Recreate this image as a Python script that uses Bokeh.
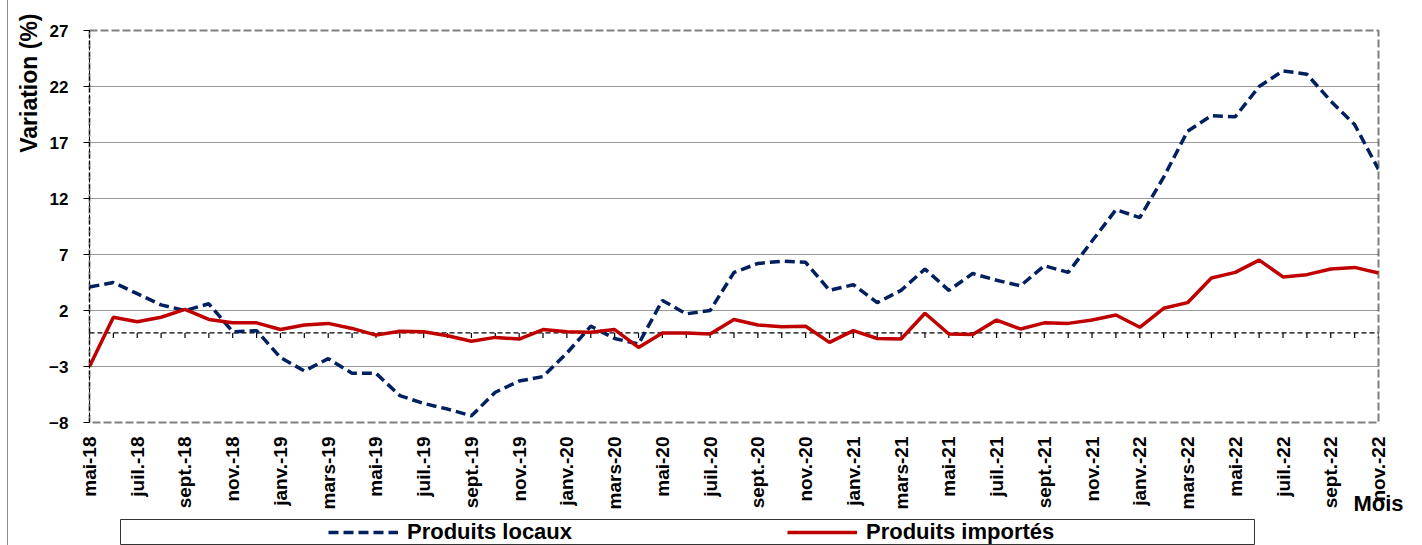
import math
from bokeh.plotting import figure
from bokeh.models import (Range1d, FixedTicker, Span, Title, Legend, LegendItem,
                          ColumnDataSource, Spacer)
from bokeh.layouts import column, row
from bokeh.embed import file_html
from bokeh.resources import INLINE

# ---------------- data ----------------
month_names = ["janv.", "févr.", "mars", "avr.", "mai", "juin",
               "juil.", "août", "sept.", "oct.", "nov.", "déc."]
start_year = 2018
start_month = 4          # index of "mai"
n_months = 55            # mai-18 .. nov-22

months = []
for k in range(n_months):
    m = (start_month + k) % 12
    y = start_year + (start_month + k) // 12
    months.append(f"{month_names[m]}-{y % 100:02d}")

produits_locaux = [4.1, 4.5, 3.5, 2.5, 2.0, 2.6, 0.1, 0.2, -2.2, -3.4, -2.3, -3.6,
                   -3.6, -5.6, -6.3, -6.8, -7.4,
                   -5.3, -4.3, -3.9, -1.8, 0.6, -0.5, -1.0, 2.9, 1.7, 2.0, 5.4,
                   6.2, 6.4, 6.3, 3.8, 4.3, 2.7, 3.8, 5.7,
                   3.8, 5.3, 4.7, 4.2, 6.0, 5.4, 8.2, 11.0, 10.3, 13.9, 18.0,
                   19.4, 19.3, 22.0, 23.4, 23.1, 20.7, 18.6, 14.6]

produits_importes = [-3.0, 1.4, 1.0, 1.4, 2.1, 1.2, 0.9, 0.9, 0.3, 0.7, 0.85, 0.4,
                     -0.2, 0.15, 0.1, -0.25, -0.75,
                     -0.4, -0.55, 0.3, 0.1, 0.05, 0.3, -1.3, 0.0, 0.0, -0.1, 1.2,
                     0.7, 0.55, 0.6, -0.85, 0.2, -0.5, -0.55, 1.75,
                     -0.1, -0.15, 1.15, 0.35, 0.9, 0.85, 1.15, 1.6, 0.5, 2.2, 2.7,
                     4.9, 5.4, 6.5, 5.0, 5.2, 5.7, 5.85, 5.35]

y_ticks = [-8, -3, 2, 7, 12, 17, 22, 27]
x_idx = list(range(n_months))
x_tick_idx = x_idx[::2]
x_tick_labels = {i: months[i] for i in x_tick_idx}

FONT = "Liberation Sans"
BLUE = "#002060"
RED = "#C00000"

src = ColumnDataSource(dict(x=x_idx, loc=produits_locaux, imp=produits_importes,
                            zero=[0] * n_months, tick=[-0.45] * n_months))

# ---------------- main figure ----------------
p = figure(width=1406, height=519, output_backend="svg", toolbar_location=None,
           x_range=Range1d(0, n_months - 1), y_range=Range1d(y_ticks[0], y_ticks[-1]),
           min_border_left=80, min_border_top=30, min_border_right=36,
           min_border_bottom=97)
p.background_fill_color = "white"
p.border_fill_color = "white"
p.outline_line_color = "#808080"
p.outline_line_width = 2
p.outline_line_dash = "8 3"

# y axis
p.yaxis.ticker = FixedTicker(ticks=y_ticks)
p.yaxis.axis_line_color = "black"
p.yaxis.axis_line_dash = "4 2"
p.yaxis.axis_line_width = 1
p.yaxis.major_tick_out = 6
p.yaxis.major_tick_in = 0
p.yaxis.major_tick_line_color = "black"
p.yaxis.minor_tick_line_color = None
p.yaxis.major_label_text_font = FONT
p.yaxis.major_label_text_font_size = "17px"
p.yaxis.major_label_text_font_style = "bold"
p.yaxis.major_label_text_color = "black"
p.yaxis.major_label_standoff = 15

# x axis
p.xaxis.ticker = FixedTicker(ticks=x_tick_idx)
p.xaxis.major_label_overrides = x_tick_labels
p.xaxis.major_label_orientation = math.pi / 2
p.xaxis.axis_line_color = None
p.xaxis.major_tick_line_color = None
p.xaxis.minor_tick_line_color = None
p.xaxis.major_tick_out = 0
p.xaxis.major_tick_in = 0
p.xaxis.major_label_standoff = 14
p.xaxis.major_label_text_font = FONT
p.xaxis.major_label_text_font_size = "19px"
p.xaxis.major_label_text_font_style = "bold"
p.xaxis.major_label_text_color = "black"
p.xaxis.axis_label = "Mois"
p.xaxis.axis_label_align = "end"
p.xaxis.axis_label_standoff = -21
p.xaxis.axis_label_text_font = FONT
p.xaxis.axis_label_text_font_size = "22px"
p.xaxis.axis_label_text_font_style = "bold"
p.xaxis.axis_label_text_color = "black"

# grids
p.xgrid.grid_line_color = None
p.ygrid.ticker = FixedTicker(ticks=y_ticks)
p.ygrid.grid_line_color = "#333333"
p.ygrid.grid_line_dash = "1 1"
p.ygrid.grid_line_width = 1

# zero line with monthly ticks
p.add_layout(Span(location=0, dimension="width", line_color="black",
                  line_dash="5 3", line_width=1.3, level="underlay"))
p.segment(x0="x", y0="zero", x1="x", y1="tick", source=src,
          line_color="black", line_width=1.2)

p.line("x", "loc", source=src, line_color=BLUE, line_width=3.5, line_dash="10 5")
p.line("x", "imp", source=src, line_color=RED, line_width=3.5)

# y title at top-left
t = Title(text="Variation (%)", align="right", offset=-17, text_font=FONT,
          text_font_size="23px", text_font_style="bold", text_color="black")
p.add_layout(t, "left")

# ---------------- legend figure ----------------
p2 = figure(width=1136, height=26, output_backend="svg", toolbar_location=None,
            x_range=Range1d(0, n_months - 1), y_range=Range1d(1000, 1001),
            min_border_left=1, min_border_right=1, min_border_top=0,
            min_border_bottom=0)
p2.axis.visible = False
p2.grid.visible = False
p2.outline_line_color = "#333333"
p2.outline_line_width = 1
p2.background_fill_color = "white"
p2.border_fill_color = "white"

g1 = p2.line("x", "loc", source=src, line_color=BLUE, line_width=3.5, line_dash="10 5")
g2 = p2.line("x", "imp", source=src, line_color=RED, line_width=3.5)
leg = Legend(items=[LegendItem(label="Produits locaux", renderers=[g1]),
                    LegendItem(label="Produits importés", renderers=[g2])],
             orientation="horizontal", location="center_left", margin=208,
             padding=0, spacing=210, glyph_width=70, glyph_height=20,
             label_standoff=9, label_width=170, label_height=20,
             label_text_font=FONT, label_text_font_size="22px",
             label_text_font_style="bold", label_text_color="black",
             border_line_alpha=0, background_fill_alpha=0)
p2.add_layout(leg, "center")

chart = column(p, row(Spacer(width=111, height=26), p2, spacing=0), spacing=0)
layout = row(Spacer(width=7, height=545),
             Spacer(width=1, height=545, styles={"background-color": "#8c8c8c"}),
             chart, spacing=0)
open("out.html", "w").write(file_html(layout, INLINE))
